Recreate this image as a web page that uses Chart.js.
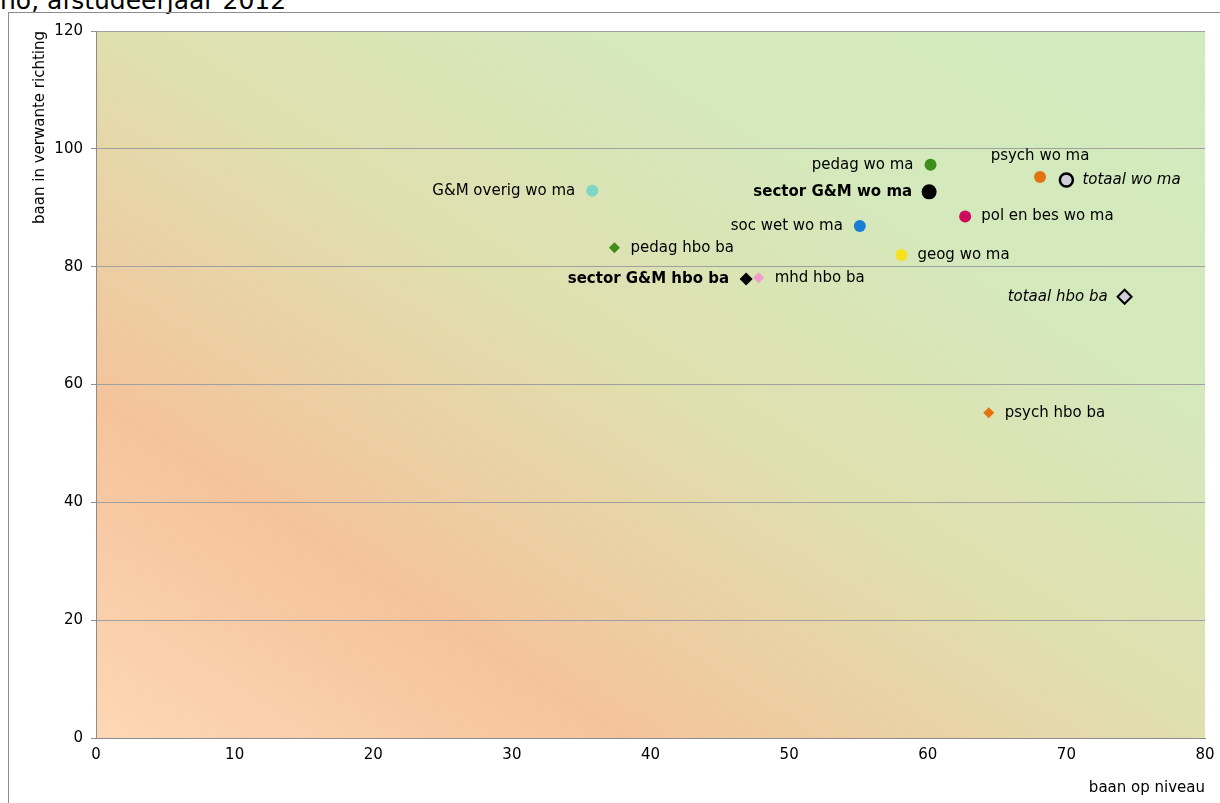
<!DOCTYPE html>
<html>
<head>
<meta charset="utf-8">
<script src="https://cdn.jsdelivr.net/npm/chart.js@4.4.0/dist/chart.umd.min.js"></script>
<style>
  html, body { margin: 0; padding: 0; background: #fff; overflow: hidden; }
  body { width: 1220px; height: 803px; position: relative; font-family: "DejaVu Sans", Verdana, sans-serif; }
  #title { position: absolute; left: 0; top: -14px; font-size: 25px; color: #000; white-space: nowrap; }
  #frame { position: absolute; left: 8px; top: 12px; width: 1230px; height: 810px; border: 1px solid #8c8c8c; box-sizing: border-box; }
  #wrap { position: absolute; left: 9px; top: 13px; width: 1211px; height: 790px; }
</style>
</head>
<body>
<div id="title">ho, afstudeerjaar 2012</div>
<div id="frame"></div>
<div id="wrap"><canvas id="scatterChart"></canvas></div>
<script>
// data per opleiding (x = baan op niveau, y = baan in verwante richting)
const names = [
  'G&M overig wo ma', 'pedag wo ma', 'sector G&M wo ma', 'soc wet wo ma',
  'pol en bes wo ma', 'geog wo ma', 'psych wo ma', 'totaal wo ma',
  'pedag hbo ba', 'sector G&M hbo ba', 'mhd hbo ba', 'totaal hbo ba', 'psych hbo ba'
];
const xValues = [35.8, 60.2, 60.1, 55.1, 62.7, 58.1, 68.1, 70.0, 37.4, 46.9, 47.8, 74.2, 64.4];
const yValues = [92.9, 97.3, 92.7, 86.9, 88.5, 82.0, 95.2, 94.7, 83.2, 77.9, 78.1, 74.9, 55.2];
const xTicks = [0, 10, 20, 30, 40, 50, 60, 70, 80];
const yTicks = [0, 20, 40, 60, 80, 100, 120];

// styling per punt
const pointColors = ['#7fd6c4', '#3f8e1c', '#000000', '#1a7fd4', '#cc0a5e', '#f7e21e', '#e3720f', '#d0d0d8',
                     '#3f8e1c', '#000000', '#f19ccd', '#d0d0d8', '#e3720f'];
const pointShapes = ['circle', 'circle', 'circle', 'circle', 'circle', 'circle', 'circle', 'circle',
                     'rectRot', 'rectRot', 'rectRot', 'rectRot', 'rectRot'];
const pointSizes = [6, 6, 7.5, 6, 6, 6, 6, 6.5, 5.5, 6.5, 5.5, 7, 5.5];
const borderWidths = [0, 0, 0, 0, 0, 0, 0, 2.5, 0, 0, 0, 2, 0];
const labelSide = ['left', 'left', 'left', 'left', 'right', 'right', 'above', 'right',
                   'right', 'left', 'right', 'left', 'right'];
const labelFont = ['', '', 'bold ', '', '', '', '', 'italic ', '', 'bold ', '', 'italic ', ''];

// achtergrond met diagonale kleurverloop
const gradientBg = {
  id: 'gradientBg',
  beforeDraw(chart) {
    const { ctx, chartArea: a } = chart;
    ctx.save();
    ctx.translate(a.left, a.top);
    ctx.scale(a.right - a.left, a.bottom - a.top);
    const g = ctx.createLinearGradient(0, 1, 1, 0);
    g.addColorStop(0, '#fdd7b4');
    g.addColorStop(0.24, '#f4c39c');
    g.addColorStop(0.5, '#e0dfae');
    g.addColorStop(0.74, '#d4e9bc');
    g.addColorStop(1, '#d2ebbe');
    ctx.fillStyle = g;
    ctx.fillRect(0, 0, 1, 1);
    ctx.restore();
  }
};

// labels naast de punten
const pointLabels = {
  id: 'pointLabels',
  afterDatasetsDraw(chart) {
    const { ctx } = chart;
    const meta = chart.getDatasetMeta(0);
    ctx.save();
    ctx.fillStyle = '#000';
    meta.data.forEach((pt, i) => {
      ctx.font = labelFont[i] + '15px "DejaVu Sans", Verdana, sans-serif';
      ctx.textBaseline = 'middle';
      if (labelSide[i] === 'left') {
        ctx.textAlign = 'right';
        ctx.fillText(names[i], pt.x - 17, pt.y);
      } else if (labelSide[i] === 'right') {
        ctx.textAlign = 'left';
        ctx.fillText(names[i], pt.x + 16, pt.y);
      } else {
        ctx.textAlign = 'center';
        ctx.fillText(names[i], pt.x, pt.y - 21);
      }
    });
    ctx.restore();
  }
};

const tickFont = { family: '"DejaVu Sans", Verdana, sans-serif', size: 15 };

new Chart(document.getElementById('scatterChart'), {
  type: 'scatter',
  data: {
    datasets: [{
      label: 'opleidingen',
      data: xValues.map((x, i) => ({ x: x, y: yValues[i] })),
      pointStyle: pointShapes,
      pointRadius: pointSizes,
      pointHoverRadius: pointSizes,
      pointBackgroundColor: pointColors,
      pointBorderColor: '#000000',
      pointBorderWidth: borderWidths
    }]
  },
  options: {
    responsive: true,
    maintainAspectRatio: false,
    animation: false,
    layout: { padding: { top: 18, right: 15, left: 22, bottom: 0 } },
    plugins: { legend: { display: false }, tooltip: { enabled: false } },
    scales: {
      x: {
        type: 'linear',
        min: 0, max: 80,
        afterBuildTicks: s => { s.ticks = xTicks.map(v => ({ value: v })); },
        afterFit: s => { s.height = 65; },
        grid: { display: false, drawTicks: true, tickLength: 5, tickColor: '#8c8c8c' },
        border: { color: '#8c8c8c', width: 1 },
        ticks: { color: '#000', font: tickFont, padding: 3, maxRotation: 0 },
        title: { display: true, text: 'baan op niveau', align: 'end', color: '#000', font: tickFont, padding: { top: 2, bottom: 6 } }
      },
      y: {
        type: 'linear',
        min: 0, max: 120,
        afterBuildTicks: s => { s.ticks = yTicks.map(v => ({ value: v })); },
        afterFit: s => { s.width = 65; },
        grid: { color: '#a0a0a0', lineWidth: 1, drawTicks: true, tickLength: 5, tickColor: '#8c8c8c' },
        border: { color: '#8c8c8c', width: 1 },
        ticks: { color: '#000', font: tickFont, padding: 8 },
        title: { display: true, text: 'baan in verwante richting', align: 'end', color: '#000', font: tickFont, padding: 0 }
      }
    }
  },
  plugins: [gradientBg, pointLabels]
});
</script>
</body>
</html>
